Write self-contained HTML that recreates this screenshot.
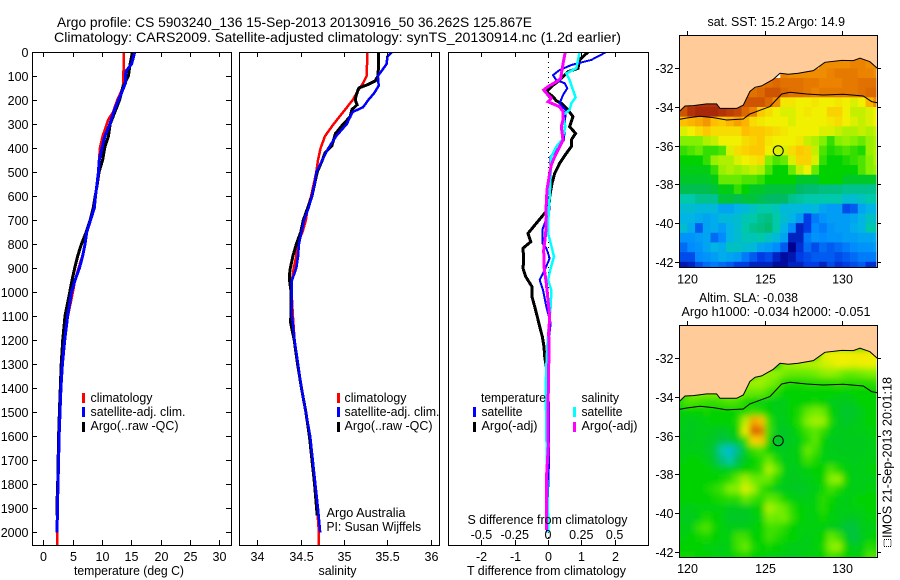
<!DOCTYPE html>
<html lang="en">
<head>
<meta charset="utf-8">
<title>Argo profile 5903240_136</title>
<style>
html,body{margin:0;padding:0;background:#fff;}
svg{display:block;}
text{font-family:"Liberation Sans",sans-serif;font-size:12.5px;fill:#000;}
.t14{font-size:14px;}
.frame{fill:none;stroke:#000;stroke-width:1;shape-rendering:crispEdges;}
.bar{shape-rendering:crispEdges;}
</style>
</head>
<body>
<svg id="chart" xmlns="http://www.w3.org/2000/svg" width="900" height="580" viewBox="0 0 900 580">
  <defs>
    <clipPath id="clip-map1"><rect x="679.5" y="35" width="197" height="232"/></clipPath>
    <clipPath id="clip-map2"><rect x="679.5" y="325" width="197" height="232"/></clipPath>
    <clipPath id="clip-p1"><rect x="32" y="52" width="199" height="493"/></clipPath>
    <clipPath id="clip-p2"><rect x="239" y="52" width="200" height="493"/></clipPath>
    <clipPath id="clip-p3"><rect x="448" y="52" width="200" height="493"/></clipPath>
    <filter id="soft-field" x="-5%" y="-5%" width="110%" height="110%"><feGaussianBlur stdDeviation="3.2"/></filter>
  </defs>
  <rect x="0" y="0" width="900" height="580" fill="#fff"/>

  <text class="t14" x="57" y="27" textLength="475" lengthAdjust="spacingAndGlyphs">Argo profile: CS 5903240_136 15-Sep-2013 20130916_50 36.262S 125.867E</text>
  <text class="t14" x="54" y="42" textLength="567" lengthAdjust="spacingAndGlyphs">Climatology: CARS2009. Satellite-adjusted climatology: synTS_20130914.nc (1.2d earlier)</text>

  <g id="panel1" clip-path="url(#clip-p1)"></g>
  <g id="panel2" clip-path="url(#clip-p2)"></g>
  <g id="panel3" clip-path="url(#clip-p3)"></g>
  <g id="map1"></g>
  <g id="map2"></g>
  <g id="axes"></g>

  <rect class="frame" x="32.5" y="52.5" width="199" height="493"/>
  <rect class="frame" x="239.5" y="52.5" width="200" height="493"/>
  <rect class="frame" x="448.5" y="52.5" width="200" height="493"/>
  <rect class="frame" x="679.5" y="35.5" width="198" height="232"/>
  <rect class="frame" x="679.5" y="325.5" width="198" height="232"/>

  <text x="74" y="575" textLength="110" lengthAdjust="spacingAndGlyphs">temperature (deg C)</text>
  <text x="318.5" y="575" textLength="38" lengthAdjust="spacingAndGlyphs">salinity</text>
  <text x="467" y="575" textLength="159" lengthAdjust="spacingAndGlyphs">T difference from climatology</text>
  <text x="467.5" y="524" textLength="160" lengthAdjust="spacingAndGlyphs">S difference from climatology</text>

  <g>
    <rect class="bar" x="82" y="393" width="3" height="10" fill="#ff0000"/>
    <rect class="bar" x="82" y="407" width="3" height="10" fill="#0000ff"/>
    <rect class="bar" x="82" y="422" width="3" height="10" fill="#000"/>
    <text x="90.5" y="402" textLength="62" lengthAdjust="spacingAndGlyphs">climatology</text>
    <text x="90.5" y="416" textLength="95" lengthAdjust="spacingAndGlyphs">satellite-adj. clim.</text>
    <text x="90.5" y="430" textLength="88" lengthAdjust="spacingAndGlyphs">Argo(..raw -QC)</text>
  </g>
  <g>
    <rect class="bar" x="337" y="393" width="3" height="10" fill="#ff0000"/>
    <rect class="bar" x="337" y="407" width="3" height="10" fill="#0000ff"/>
    <rect class="bar" x="337" y="422" width="3" height="10" fill="#000"/>
    <text x="344.5" y="402" textLength="62" lengthAdjust="spacingAndGlyphs">climatology</text>
    <text x="344.5" y="416" textLength="95" lengthAdjust="spacingAndGlyphs">satellite-adj. clim.</text>
    <text x="344.5" y="430" textLength="88" lengthAdjust="spacingAndGlyphs">Argo(..raw -QC)</text>
    <text x="326.5" y="517" textLength="79" lengthAdjust="spacingAndGlyphs">Argo Australia</text>
    <text x="326.5" y="531" textLength="94.5" lengthAdjust="spacingAndGlyphs">PI: Susan Wijffels</text>
  </g>
  <g>
    <text x="481" y="402" textLength="65" lengthAdjust="spacingAndGlyphs">temperature</text>
    <text x="581.5" y="402" textLength="37.5" lengthAdjust="spacingAndGlyphs">salinity</text>
    <rect class="bar" x="473" y="407" width="3" height="10" fill="#0000ff"/>
    <rect class="bar" x="473" y="422" width="3" height="10" fill="#000"/>
    <rect class="bar" x="573" y="407" width="3" height="10" fill="#00ffff"/>
    <rect class="bar" x="573" y="422" width="3" height="10" fill="#ff00ff"/>
    <text x="481.5" y="416" textLength="41" lengthAdjust="spacingAndGlyphs">satellite</text>
    <text x="481.5" y="430" textLength="56" lengthAdjust="spacingAndGlyphs">Argo(-adj)</text>
    <text x="581.5" y="416" textLength="41" lengthAdjust="spacingAndGlyphs">satellite</text>
    <text x="581.5" y="430" textLength="56" lengthAdjust="spacingAndGlyphs">Argo(-adj)</text>
  </g>

  <text x="707.5" y="26" textLength="137.5" lengthAdjust="spacingAndGlyphs">sat. SST: 15.2 Argo: 14.9</text>
  <text x="699" y="302" textLength="99" lengthAdjust="spacingAndGlyphs">Altim. SLA: -0.038</text>
  <text x="681.5" y="316" textLength="189" lengthAdjust="spacingAndGlyphs">Argo h1000: -0.034 h2000: -0.051</text>

  <rect x="884" y="539.5" width="7" height="7" fill="none" stroke="#000" stroke-width="1" stroke-dasharray="1 1" class="bar"/>
  <text transform="translate(891.5,538) rotate(-90)" x="0" y="0" textLength="161" lengthAdjust="spacingAndGlyphs">IMOS 21-Sep-2013 20:01:18</text>

<script>
// ---------- tick labels ----------
const depthTicks = [0,100,200,300,400,500,600,700,800,900,1000,1100,1200,1300,1400,1500,1600,1700,1800,1900,2000];
const tempTicks = [0,5,10,15,20,25,30];
const salTicks = ["34","34.5","35","35.5","36"];
const tDiffTicks = ["-2","-1","0","1","2"];
const sDiffTicks = ["-0.5","-0.25","0","0.25","0.5"];
const latTicks = [-32,-34,-36,-38,-40,-42];
const lonTicks = [120,125,130];

// ---------- temperature panel ----------
const tempClimDepth = [0,50,100,130,150,200,250,280,300,350,400,450,500,550,600,650,700,750,800,850,900,950,1000,1100,1200,1300,1400,1500,1600,1700,1800,1900,2000,2055];
const tempClimValue = [13.7,13.75,13.6,13.6,13.55,12.6,11.9,11.1,10.8,10.1,9.65,9.5,9.4,9.15,8.9,8.6,8.1,7.45,7.1,6.65,6,5.4,5.05,4.2,3.65,3.25,3,2.85,2.7,2.6,2.5,2.4,2.4,2.4];
const tempArgoDepth = [0,50,100,150,200,250,300,350,400,450,500,550,600,650,700,750,800,850,900,950,1000,1100,1200,1300,1400,1500,1600,1800,1900,1930];
const tempArgoValue = [15.2,14.8,14.5,13.5,13,12.2,11.4,11.1,10.45,10.1,9.5,9.2,8.85,8.5,8,7.3,6.5,5.85,5.35,4.9,4.5,3.7,3.3,3.05,2.9,2.75,2.6,2.45,2.3,2.3];
const tempSatDepth = [0,50,80,100,130,170,200,250,300,350,400,450,500,550,600,650,700,750,800,850,900,950,1000,1100,1200,1300,1400,1500,1600,1700,1800,1900,2000];
const tempSatValue = [15.6,15.05,14.1,14,14,13.35,12.8,12,11.35,10.5,10,9.55,9.4,9.15,8.9,8.7,8.05,7.4,7.1,6.7,6.15,5.4,4.8,4.15,3.65,3.25,3,2.85,2.7,2.6,2.5,2.4,2.35];

// ---------- salinity panel ----------
const salClimDepth = [0,100,130,150,200,250,300,350,400,450,500,550,600,650,700,750,800,850,900,950,1000,1100,1200,1300,1400,1500,1600,1700,1800,1900,2000,2055];
const salClimValue = [35.27,35.26,35.22,35.18,35.1,34.99,34.88,34.78,34.73,34.7,34.68,34.65,34.62,34.58,34.56,34.52,34.46,34.45,34.42,34.4,34.395,34.41,34.43,34.47,34.51,34.56,34.61,34.64,34.67,34.69,34.71,34.71];
const salArgoDepth = [0,50,100,120,135,150,180,200,220,240,270,300,340,390,420,450,500,550,600,650,700,750,800,850,900,930,960,1000,1100,1120,1200,1300,1400,1500,1600,1700,1800,1930];
const salArgoValue = [35.4,35.4,35.39,35.36,35.28,35.17,35.14,35.13,35.15,35.09,35.07,34.99,34.9,34.86,34.78,34.75,34.69,34.66,34.63,34.58,34.53,34.5,34.45,34.41,34.38,34.37,34.375,34.39,34.39,34.38,34.425,34.465,34.51,34.56,34.6,34.63,34.66,34.69];
const salSatDepth = [0,20,50,80,100,140,170,200,230,250,300,350,400,450,500,550,600,650,700,750,800,850,900,950,1000,1100,1200,1300,1400,1500,1600,1700,1800,1900,2000];
const salSatValue = [35.55,35.5,35.49,35.43,35.39,35.4,35.35,35.28,35.22,35.1,35.03,34.91,34.82,34.75,34.68,34.66,34.63,34.59,34.54,34.51,34.48,34.47,34.45,34.4,34.395,34.4,34.43,34.47,34.51,34.56,34.61,34.64,34.67,34.7,34.725];

// ---------- difference panel ----------
const dTArgoDepth = [0,33,68,82,117,144,165,186,203,214,241,269,311,339,366,394,422,463,505,547,602,658,671,713,755,790,817,866,900,935,977,1019,1060,1102,1143,1185,1227,1268,1310,1500,1930];
const dTArgoValue = [1.2,0.95,0.9,0.6,0.35,0.1,-0.05,0.15,0.25,0.4,0.6,0.75,0.65,0.83,0.7,0.7,0.55,0.35,0.2,0.12,0.05,0.02,-0.1,-0.35,-0.6,-0.52,-0.75,-0.73,-0.75,-0.67,-0.48,-0.48,-0.4,-0.32,-0.25,-0.17,-0.12,-0.1,-0.05,-0.03,-0.02];
const dTSatDepth = [0,33,54,75,96,117,130,151,179,214,241,269,366,394,436,470,505,602,658,741,796,817,859,907,949,991,1060,1130,1199,1310,1500,1700,2000];
const dTSatValue = [1.75,1.3,0.7,0.35,0.15,0.25,0.5,0.58,0.45,0.35,0.52,0.52,0.48,0.35,0.08,0.08,0.08,0.05,0.04,-0.17,-0.17,-0.05,0.05,-0.1,-0.25,-0.15,-0.05,0.08,0.02,0,0.03,0.03,-0.03];
const dSSatDepth = [0,33,68,89,117,158,189,214,241,262,311,366,394,436,505,602,658,755,796,852,900,949,991,1060,1143,1227,1310,1393,1490,1671,1782,1921,2000];
const dSSatValue = [0.2375,0.225,0.2125,0.1375,0.1625,0.1875,0.2075,0.175,0.1625,0.1125,0.13,0.105,0.0625,0.025,0.02,0.0125,0.005,0,0.02,0.045,0.02,0,0.025,0.02,0.005,-0.005,-0.0125,-0.0175,-0.015,-0.01,-0.0075,0,0];
const dSArgoDepth = [0,33,75,110,124,144,158,179,193,207,228,248,283,311,366,408,436,470,505,574,658,685,755,824,894,963,1032,1102,1171,1241,1310,1352,1463,1532,1643,1782,1879,1990];
const dSArgoValue = [0.13,0.1175,0.105,0.095,0.0625,0,-0.0325,0,0.025,0,0.0875,0.1125,0.1125,0.1,0.1125,0.075,0.05,0.025,0.0125,-0.0075,-0.015,-0.0125,-0.0175,-0.0325,-0.03,-0.0125,0,0.0125,0.005,0.0075,0.005,0.005,0,0,0.0025,-0.0125,-0.0125,-0.0125];

// ---------- maps (0.5 degree cells) ----------
const _ = null;
const mapLons = [119.5,120,120.5,121,121.5,122,122.5,123,123.5,124,124.5,125,125.5,126,126.5,127,127.5,128,128.5,129,129.5,130,130.5,131,131.5,132];
const mapLats = [-31.5,-32,-32.5,-33,-33.5,-34,-34.5,-35,-35.5,-36,-36.5,-37,-37.5,-38,-38.5,-39,-39.5,-40,-40.5,-41,-41.5,-42];
const sstGrid = [
[_,_,_,_,_,_,_,_,_,_,_,_,_,_,_,_,_,_,16.0,16.0,16.0,16.0,16.1,16.1,16.0,16.0],
[_,_,_,_,_,_,_,_,_,_,_,_,_,16.1,16.0,16.0,16.0,16.0,16.0,16.1,16.2,16.2,16.2,16.1,16.1,16.0],
[_,_,_,_,_,_,_,_,_,_,16.2,16.3,16.4,16.3,16.3,16.3,16.2,16.2,16.1,16.1,16.1,16.2,16.2,16.3,16.3,16.3],
[_,_,_,_,_,_,_,_,16.4,16.3,16.4,16.6,16.6,16.4,16.3,16.3,16.2,16.1,16.2,16.2,16.2,16.2,16.2,16.3,16.4,16.4],
[16.5,16.8,16.9,16.9,16.9,16.8,16.7,16.6,16.6,16.6,16.6,16.4,16.0,15.1,15.1,15.0,15.0,15.1,15.0,15.0,15.1,15.0,14.9,15.0,15.6,16.0],
[16.6,16.9,17.0,17.1,17.0,16.9,16.8,16.7,16.4,16.1,15.4,15.2,15.0,14.9,14.9,15.0,15.1,15.0,15.0,15.3,15.3,15.0,14.8,14.8,14.9,15.0],
[15.5,15.6,15.7,15.9,15.5,15.4,15.6,15.8,15.6,15.2,15.1,15.0,15.0,15.0,14.9,15.0,15.0,15.0,15.0,15.1,15.2,15.0,14.9,14.8,14.9,15.0],
[14.9,15.0,15.2,15.4,15.2,15.2,15.2,15.2,15.5,15.4,15.4,15.3,15.2,15.1,15.0,15.0,15.0,15.0,14.9,14.9,14.8,14.7,14.7,14.8,14.7,14.8],
[14.5,14.5,14.5,14.7,14.8,15.0,15.0,15.0,15.2,15.3,15.4,15.1,15.0,15.0,15.0,15.1,14.8,14.7,14.5,14.2,14.5,14.6,14.5,14.4,14.6,14.7],
[14.2,14.3,14.4,14.2,14.2,14.3,14.9,15.2,15.3,15.4,15.4,15.0,14.9,14.9,15.2,15.4,15.3,14.8,14.3,14.1,14.2,14.3,14.2,14.1,14.6,14.7],
[14.0,14.0,14.0,14.2,14.6,14.7,14.7,14.9,15.0,15.1,15.2,14.5,14.3,14.4,14.9,15.3,15.3,14.9,14.2,14.0,14.0,14.1,14.2,14.3,14.5,14.7],
[13.9,13.9,13.9,13.9,14.2,14.6,14.7,14.6,14.7,14.8,14.7,14.3,14.0,14.0,14.4,14.8,15.0,14.4,14.0,14.0,14.0,14.0,14.0,14.3,14.5,14.6],
[13.8,13.8,13.8,13.8,13.9,14.4,14.4,14.4,14.3,14.3,14.2,14.0,14.0,14.0,14.0,13.8,13.8,13.8,14.0,14.0,14.0,13.8,13.8,13.8,13.8,13.8],
[13.6,13.6,13.6,13.6,13.7,13.9,13.9,14.2,14.0,13.8,13.8,13.7,13.7,13.7,13.7,13.5,13.4,13.4,13.3,13.3,13.3,13.2,13.2,13.2,13.2,13.2],
[13.0,13.0,13.2,13.2,13.2,13.7,13.7,13.6,13.7,13.7,13.6,13.5,13.5,13.5,13.2,13.1,13.0,13.0,13.0,13.0,13.0,12.7,12.7,12.8,13.0,13.0],
[12.7,12.7,12.6,12.6,12.6,12.3,12.3,12.5,12.6,12.8,13.0,13.0,12.9,12.6,12.6,12.6,12.5,12.6,12.3,12.2,12.2,11.6,11.7,12.3,12.5,12.5],
[12.5,12.5,12.4,12.3,12.4,12.6,12.6,12.7,12.9,13.0,13.2,13.3,13.0,12.7,12.5,12.2,11.5,11.9,12.1,12.2,12.2,12.2,12.3,12.5,12.8,12.7],
[12.7,12.4,11.7,12.3,12.4,12.2,12.5,12.7,13.0,13.2,13.3,13.4,13.0,12.5,12.0,11.3,11.5,12.0,11.9,12.1,12.2,12.2,12.4,12.5,13.0,12.9],
[12.1,12.1,12.2,12.3,11.8,12.0,12.5,12.7,12.9,12.9,13.0,12.8,12.6,12.3,11.3,11.3,11.9,12.1,12.0,12.1,12.1,12.2,12.2,12.3,12.3,12.4],
[11.8,12.0,12.1,12.3,12.5,12.4,12.8,12.8,12.7,12.6,12.3,12.2,12.0,11.7,11.0,11.4,11.8,11.6,11.8,11.7,11.8,11.9,12.0,12.1,12.1,12.2],
[11.6,11.6,12.0,12.1,12.2,12.4,12.3,12.2,11.9,11.7,11.5,11.6,11.3,11.1,11.2,11.5,11.6,11.7,11.7,11.7,11.6,11.7,11.8,11.9,11.9,11.9],
[11.2,11.3,11.6,11.8,11.9,11.8,11.7,11.5,11.5,11.3,11.3,11.3,11.1,11.1,11.3,11.3,11.5,11.5,11.3,11.6,11.4,11.5,11.6,11.7,11.4,11.4]
];
const slaGrid = [
[_,_,_,_,_,_,_,_,_,_,_,_,_,_,_,_,_,_,0.19,0.2,0.2,0.2,0.21,0.22,0.21,0.2],
[_,_,_,_,_,_,_,_,_,_,_,_,_,0.13,0.13,0.14,0.15,0.15,0.17,0.18,0.2,0.2,0.19,0.2,0.2,0.2],
[_,_,_,_,_,_,_,_,_,_,0.12,0.12,0.12,0.09,0.08,0.08,0.08,0.09,0.11,0.12,0.1,0.08,0.08,0.09,0.1,0.1],
[_,_,_,_,_,_,_,_,0.12,0.13,0.13,0.1,0.08,0.03,0.02,0.02,0.03,0.03,0.03,0.03,0.04,0.03,0.03,0.03,0.03,0.04],
[0.04,0.1,0.1,0.1,0.1,0.1,0.12,0.12,0.08,0.08,0.08,0.05,0.03,0,0,0,0,0,0,0,0,-0.01,0,0,0,0],
[0.05,0.06,0.05,0.04,0.04,0.05,0.06,0.05,0.02,0,-0.01,-0.01,-0.02,-0.02,0,0,0,0.01,0,-0.02,-0.03,-0.03,-0.02,0,0,0],
[-0.01,0,0,0.01,0,0,0,0.01,0.02,0.04,0.03,0,-0.02,-0.02,0,0.02,0.07,0.09,0.08,0,-0.03,-0.05,-0.04,-0.02,0,0],
[-0.02,-0.03,-0.02,-0.01,0,0,0,0.02,0.15,0.36,0.3,0.04,-0.02,-0.03,0,0.03,0.1,0.13,0.12,0.02,-0.03,-0.04,-0.03,-0.02,0,0],
[-0.03,-0.03,-0.02,-0.02,-0.03,-0.04,-0.02,0,0.2,0.5,0.46,0.05,-0.03,-0.04,-0.02,0.01,0.05,0.07,0.04,-0.01,-0.03,-0.03,-0.02,-0.02,-0.01,0],
[-0.03,-0.03,-0.02,-0.03,-0.04,-0.07,-0.05,-0.03,0.03,0.26,0.28,0,-0.04,-0.04,-0.03,-0.01,0.03,0.07,0,-0.03,-0.03,-0.03,-0.03,-0.03,-0.02,-0.01],
[-0.02,-0.02,-0.02,-0.03,-0.06,-0.2,-0.27,-0.14,-0.02,0.04,0.06,0,-0.02,-0.03,-0.02,-0.01,0.08,0.05,-0.01,-0.02,-0.03,-0.03,-0.03,-0.03,-0.02,-0.02],
[-0.01,0,0,-0.02,-0.05,-0.14,-0.2,-0.08,-0.02,0,0.03,0.08,0.02,-0.02,-0.02,-0.01,0.05,0.02,-0.01,-0.02,-0.02,-0.02,-0.03,-0.02,-0.02,-0.01],
[0,0,0,0,-0.01,-0.02,-0.02,-0.01,0,0.01,0.03,0.14,0.08,-0.01,-0.03,-0.02,-0.01,0,0,0.06,0.02,-0.01,-0.02,-0.02,-0.01,0],
[0,0,0,0,0,0.01,0.03,0.08,0.13,0.08,0.08,0.08,0.02,-0.02,-0.03,-0.03,-0.02,-0.01,0,0.1,0.12,0.01,-0.02,-0.02,-0.02,-0.01],
[0,0,0,0.01,0.03,0.05,0.1,0.1,0.18,0.13,0.05,0.01,-0.02,-0.03,-0.03,-0.04,-0.03,-0.02,0.01,0.05,0.02,-0.01,-0.02,-0.02,-0.01,-0.01],
[0,0,0,0,0.01,0.02,0.03,0.03,0.08,0.05,0.03,0.07,0.06,0.01,-0.01,-0.02,-0.02,-0.01,0.03,0.01,-0.01,-0.02,-0.01,0,0,0],
[-0.02,-0.02,-0.01,-0.01,-0.01,-0.01,-0.03,-0.03,-0.03,-0.01,0,0.14,0.1,0.08,0.03,0,-0.01,-0.01,0.03,0,-0.02,-0.02,-0.01,-0.01,0,0],
[-0.03,-0.03,-0.01,0.02,0,-0.01,-0.04,-0.04,-0.04,-0.02,-0.01,0.09,0.08,0.09,0.04,0,-0.01,-0.01,0.01,-0.01,-0.02,-0.03,-0.04,-0.02,-0.01,0],
[-0.02,-0.02,0.04,0.06,0.01,-0.01,-0.02,-0.02,-0.02,-0.01,0,0.05,0.05,0.03,0,-0.01,-0.01,-0.01,-0.01,-0.02,-0.03,-0.06,-0.06,-0.03,-0.02,-0.01],
[-0.01,0,0.01,0.02,0,-0.01,-0.01,0.05,0.05,0,0,0.05,0.03,0.01,0,-0.01,-0.02,-0.01,0,0.08,0.05,-0.02,-0.07,-0.03,-0.01,0],
[0,0,0,-0.01,-0.01,-0.02,-0.01,0.05,0.08,0.02,0,0.01,0,-0.01,-0.02,-0.02,-0.02,-0.01,0.01,0.1,0.12,0,-0.03,-0.02,0.03,0.02],
[0.01,0.01,0,0,-0.01,-0.01,-0.01,0.01,0.02,0,0,-0.01,-0.01,-0.02,-0.03,-0.02,-0.01,-0.01,0,0.05,0.03,0,-0.01,0,0.06,0.06]
];
const coastLon = [119.48,119.85,120.39,121.25,121.89,122.11,123.18,123.61,124.04,124.37,124.8,125.55,125.98,126.52,127.16,128.13,128.88,129.96,130.71,131.14,131.78,132.26];
const coastLat = [-34.24,-33.95,-33.93,-33.84,-33.84,-34.07,-34.07,-33.9,-33.2,-32.98,-32.91,-32.57,-32.26,-32.31,-32.26,-32.12,-31.69,-31.59,-31.6,-31.48,-31.66,-32];
const shelfLon = [119.48,119.96,120.82,121.68,122.54,123.61,124.04,125.33,126.09,126.62,127.7,128.77,130.06,131.35,131.89,132.26];
const shelfLat = [-34.64,-34.57,-34.48,-34.55,-34.67,-34.62,-34.36,-33.98,-33.33,-33.24,-33.33,-33.38,-33.34,-33.43,-33.72,-33.78];
const profileLon = [125.867];
const profileLat = [-36.262];

// ---------- axis functions ----------
const NS = "http://www.w3.org/2000/svg";
const yDepth = d => 52 + 0.2402 * d;
const xTemp = v => 43.3 + 5.867 * v;
const xSal = v => 257.3 + 86.75 * (v - 34);
const xDT = v => 548 + 33.3 * v;
const xDS = v => 548 + 133.2 * v;
const xLon = lon => 687.3 + 15.5 * (lon - 120);
const yLat1 = lat => 68.3 + 19.35 * (-32 - lat);
const yLat2 = lat => 358.3 + 19.34 * (-32 - lat);

// ---------- colour scale ----------
const stops = [[0,0,140],[0,60,230],[0,140,255],[0,180,230],[0,200,170],[0,185,100],[0,210,0],[130,240,0],[240,240,0],[255,190,0],[240,140,0],[215,95,0],[170,40,10]];
function paletteColor(idx){
  const i = Math.max(0, Math.min(stops.length - 1.001, idx));
  const k = Math.floor(i), f = i - k;
  const c = [0,1,2].map(n => Math.round(stops[k][n] + (stops[k+1][n] - stops[k][n]) * f));
  return "rgb(" + c.join(",") + ")";
}
const sstIndex = t => (t - 11) * 2;
const slaIndex = s => 6 + 10 * s;

function add(parent, tag){
  const e = document.createElementNS(NS, tag);
  parent.appendChild(e);
  return e;
}

function drawProfile(parent, depths, values, xFn, color, width, name){
  const line = add(parent, "polyline");
  
  
  line.setAttribute("points", depths.map((d, i) => xFn(values[i]).toFixed(1) + "," + yDepth(d).toFixed(1)).join(" "));
  line.setAttribute("fill", "none");
  line.setAttribute("stroke", color);
  line.setAttribute("stroke-width", width);
  line.setAttribute("shape-rendering", "crispEdges");
}

const p1 = document.getElementById("panel1");
drawProfile(p1, tempClimDepth, tempClimValue, xTemp, "#ff0000", 2.5, "temperature-climatology-line");
drawProfile(p1, tempArgoDepth, tempArgoValue, xTemp, "#000000", 3, "temperature-argo-line");
drawProfile(p1, tempSatDepth, tempSatValue, xTemp, "#0000ff", 3, "temperature-satellite-line");

const p2 = document.getElementById("panel2");
drawProfile(p2, salClimDepth, salClimValue, xSal, "#ff0000", 2.5, "salinity-climatology-line");
drawProfile(p2, salArgoDepth, salArgoValue, xSal, "#000000", 3, "salinity-argo-line");
drawProfile(p2, salSatDepth, salSatValue, xSal, "#0000ff", 2.5, "salinity-satellite-line");

const p3 = document.getElementById("panel3");
const zeroLine = add(p3, "line");


zeroLine.setAttribute("x1", xDT(0) + 0.5);
zeroLine.setAttribute("x2", xDT(0) + 0.5);
zeroLine.setAttribute("y1", yDepth(0));
zeroLine.setAttribute("y2", yDepth(2055));
zeroLine.setAttribute("stroke", "#000");
zeroLine.setAttribute("stroke-width", "1");
zeroLine.setAttribute("stroke-dasharray", "1 4");
zeroLine.setAttribute("shape-rendering", "crispEdges");
drawProfile(p3, dTArgoDepth, dTArgoValue, xDT, "#000000", 3, "t-difference-argo-line");
drawProfile(p3, dTSatDepth, dTSatValue, xDT, "#0000ff", 2, "t-difference-satellite-line");
drawProfile(p3, dSSatDepth, dSSatValue, xDS, "#00ffff", 2.5, "s-difference-satellite-line");
drawProfile(p3, dSArgoDepth, dSArgoValue, xDS, "#ff00ff", 3, "s-difference-argo-line");

function drawMap(parentId, clipId, grid, indexFn, yFn, top, prefix, smooth){
  const root = document.getElementById(parentId);
  const field = add(root, "g");
  
  
  field.setAttribute("clip-path", "url(#" + clipId + ")");
  if (smooth) {
    const base = add(field, "rect");
    
    
    base.setAttribute("x", "679");
    base.setAttribute("y", top - 2);
    base.setAttribute("width", "199");
    base.setAttribute("height", "234");
    base.setAttribute("fill", paletteColor(indexFn(0)));
  }
  const cells = add(field, "g");
  
  
  if (smooth) {
    cells.setAttribute("filter", "url(#soft-field)");
  }
  grid.forEach((row, r) => {
    row.forEach((v, c) => {
      if (v === null) return;
      const rect = add(cells, "rect");
      
      
      const x0 = xLon(mapLons[c]), x1 = xLon(mapLons[c] + 0.5);
      const y0 = yFn(mapLats[r]), y1 = yFn(mapLats[r] - 0.5);
      rect.setAttribute("x", x0.toFixed(2));
      rect.setAttribute("y", y0.toFixed(2));
      rect.setAttribute("width", (x1 - x0 + 0.4).toFixed(2));
      rect.setAttribute("height", (y1 - y0 + 0.4).toFixed(2));
      rect.setAttribute("fill", paletteColor(indexFn(v)));
    });
  });
  const land = add(root, "polygon");
  
  
  const coastPts = coastLon.map((lon, i) => xLon(lon).toFixed(1) + "," + yFn(coastLat[i]).toFixed(1));
  land.setAttribute("points", coastPts.join(" ") + " 877.5," + top + " 679.5," + top);
  land.setAttribute("fill", "#ffcc99");
  const coast = add(root, "polyline");
  
  
  coast.setAttribute("points", coastPts.join(" "));
  coast.setAttribute("fill", "none");
  coast.setAttribute("stroke", "#000");
  coast.setAttribute("stroke-width", "1");
  const shelf = add(root, "polyline");
  
  
  shelf.setAttribute("points", shelfLon.map((lon, i) => xLon(lon).toFixed(1) + "," + yFn(shelfLat[i]).toFixed(1)).join(" "));
  shelf.setAttribute("fill", "none");
  shelf.setAttribute("stroke", "#000");
  shelf.setAttribute("stroke-width", "1");
  const dot = add(root, "circle");
  
  
  dot.setAttribute("cx", xLon(profileLon[0]));
  dot.setAttribute("cy", yFn(profileLat[0]));
  dot.setAttribute("r", "5");
  dot.setAttribute("fill", "none");
  dot.setAttribute("stroke", "#000");
  dot.setAttribute("stroke-width", "1");
}
drawMap("map1", "clip-map1", sstGrid, sstIndex, yLat1, 36, "sst", false);
drawMap("map2", "clip-map2", slaGrid, slaIndex, yLat2, 326, "sla", true);

// ---------- ticks and labels ----------
const axes = document.getElementById("axes");
function tick(x1, y1, x2, y2){
  const t = add(axes, "line");
  
  
  t.setAttribute("x1", x1);
  t.setAttribute("y1", y1);
  t.setAttribute("x2", x2);
  t.setAttribute("y2", y2);
  t.setAttribute("stroke", "#000");
  t.setAttribute("stroke-width", "1");
  t.setAttribute("shape-rendering", "crispEdges");
}
function label(x, y, str, anchor){
  const t = add(axes, "text");
  
  
  t.setAttribute("x", x);
  t.setAttribute("y", y);
  t.setAttribute("text-anchor", anchor);
  t.textContent = str;
}
const snap = v => Math.round(v) + 0.5;

depthTicks.forEach(d => {
  const y = snap(yDepth(d));
  tick(32, y, 37, y);
  tick(226, y, 231, y);
  label(28.5, y + 4.5, String(d), "end");
});
tempTicks.forEach(v => {
  const x = snap(xTemp(v));
  tick(x, 52, x, 57);
  tick(x, 540, x, 545);
  label(x, 561, String(v), "middle");
});
salTicks.forEach(s => {
  const x = snap(xSal(parseFloat(s)));
  tick(x, 52, x, 57);
  tick(x, 540, x, 545);
  label(x, 561, s, "middle");
});
tDiffTicks.forEach(s => {
  const x = snap(xDT(parseFloat(s)));
  tick(x, 52, x, 57);
  tick(x, 540, x, 545);
  label(x, 561, s, "middle");
});
sDiffTicks.forEach(s => {
  label(xDS(parseFloat(s)), 539, s, "middle");
});
latTicks.forEach(lat => {
  [yLat1, yLat2].forEach(fn => {
    const y = snap(fn(lat));
    tick(675, y, 679, y);
    tick(878, y, 881, y);
    label(673.5, y + 4.5, String(lat), "end");
  });
});
lonTicks.forEach(lon => {
  const x = snap(xLon(lon));
  tick(x, 31, x, 35);
  tick(x, 321, x, 325);
  label(x, 283.5, String(lon), "middle");
  label(x, 573, String(lon), "middle");
});
</script>
</svg>
</body>
</html>
